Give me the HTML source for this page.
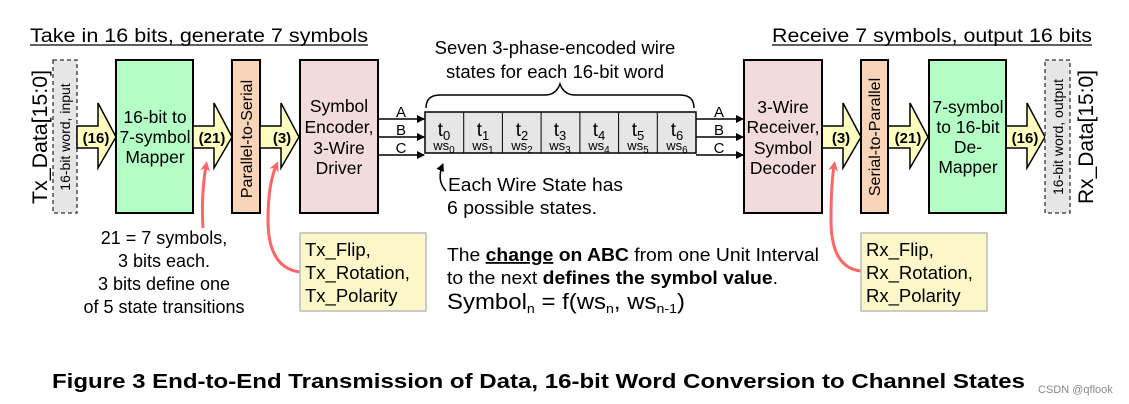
<!DOCTYPE html>
<html><head><meta charset="utf-8"><style>
html,body{margin:0;padding:0;background:#fff;}
svg{display:block;font-family:"Liberation Sans",Arial,sans-serif;}
</style></head><body>
<svg width="1129" height="404" viewBox="0 0 1129 404" xmlns="http://www.w3.org/2000/svg">
<defs>
<marker id="ah" markerWidth="8" markerHeight="8" refX="7" refY="4" orient="auto" markerUnits="userSpaceOnUse"><path d="M0,0 L8,4 L0,8 z" fill="#000"/></marker>
<marker id="rh" markerWidth="10" markerHeight="10" refX="5" refY="5" orient="auto" markerUnits="userSpaceOnUse"><path d="M0,0 L10,5 L0,10 L3,5 z" fill="#f66"/></marker>
</defs>
<text x="30" y="42" font-size="19" textLength="338" lengthAdjust="spacingAndGlyphs">Take in 16 bits, generate 7 symbols</text>
<line x1="30" y1="45" x2="368" y2="45" stroke="#000" stroke-width="1.2"/>
<text x="772" y="42" font-size="19" textLength="320" lengthAdjust="spacingAndGlyphs">Receive 7 symbols, output 16 bits</text>
<line x1="772" y1="45" x2="1092" y2="45" stroke="#000" stroke-width="1.2"/>

<text transform="translate(47,137) rotate(-90)" font-size="21" text-anchor="middle" textLength="134" lengthAdjust="spacingAndGlyphs">Tx_Data[15:0]</text>
<rect x="53" y="60" width="24" height="153" fill="#e6e6e6" stroke="#333" stroke-dasharray="4,3" stroke-width="1.3"/>
<text transform="translate(70,137) rotate(-90)" font-size="14" text-anchor="middle">16-bit word, input</text>

<rect x="116" y="60" width="77" height="153" fill="#b3ffc6" stroke="#000" stroke-width="2"/>
<text font-size="17.5" text-anchor="middle"><tspan x="155" y="123">16-bit to</tspan><tspan x="155" y="143">7-symbol</tspan><tspan x="155" y="163">Mapper</tspan></text>

<rect x="232" y="60" width="28" height="153" fill="#f8d4b8" stroke="#000" stroke-width="2"/>
<text transform="translate(252,139) rotate(-90)" font-size="16" text-anchor="middle">Parallel-to-Serial</text>

<rect x="300" y="60" width="78" height="153" fill="#f2dcdb" stroke="#000" stroke-width="2"/>
<text font-size="17.5" text-anchor="middle"><tspan x="339" y="112">Symbol</tspan><tspan x="339" y="133">Encoder,</tspan><tspan x="339" y="154">3-Wire</tspan><tspan x="339" y="174">Driver</tspan></text>

<g fill="#ffffc0" stroke="#000" stroke-width="1.5">
<path d="M77,126 H98 V103 L116,137 L98,168 V148 H77 Z"/>
<path d="M193,126 H214 V103 L232,137 L214,168 V148 H193 Z"/>
<path d="M260,126 H281 V103 L299,137 L281,168 V148 H260 Z"/>
<path d="M822,126 H843 V103 L861,137 L843,168 V148 H822 Z"/>
<path d="M888,126 H910 V103 L928,137 L910,168 V148 H888 Z"/>
<path d="M1006,126 H1027 V103 L1045,137 L1027,168 V148 H1006 Z"/>
</g>
<g font-size="15" font-weight="bold" text-anchor="middle">
<text x="96" y="143">(16)</text>
<text x="212" y="143">(21)</text>
<text x="282" y="143">(3)</text>
<text x="841" y="143">(3)</text>
<text x="908" y="143">(21)</text>
<text x="1025" y="143">(16)</text>
</g>

<g stroke="#000" stroke-width="1.5" marker-end="url(#ah)">
<line x1="378" y1="119" x2="424" y2="119"/>
<line x1="378" y1="137" x2="424" y2="137"/>
<line x1="378" y1="155" x2="424" y2="155"/>
<line x1="696" y1="119" x2="743" y2="119"/>
<line x1="696" y1="137" x2="743" y2="137"/>
<line x1="696" y1="155" x2="743" y2="155"/>
</g>
<g font-size="15" text-anchor="middle">
<text x="401" y="117">A</text><text x="401" y="135">B</text><text x="401" y="153">C</text>
<text x="719" y="117">A</text><text x="719" y="135">B</text><text x="719" y="153">C</text>
</g>

<text font-size="18.5" text-anchor="middle"><tspan x="555" y="54">Seven 3-phase-encoded wire</tspan><tspan x="555" y="78">states for each 16-bit word</tspan></text>
<path d="M426,108 Q426,95 440,95 L545,95 Q556,95 560,84 Q564,95 575,95 L680,95 Q694,95 694,108" fill="none" stroke="#000" stroke-width="1.5"/>
<rect x="425" y="112" width="271" height="41" fill="#e6e6e6" stroke="#000" stroke-width="1.5"/>
<g stroke="#000" stroke-width="1">
<line x1="463.7" y1="112" x2="463.7" y2="153"/><line x1="502.4" y1="112" x2="502.4" y2="153"/>
<line x1="541.1" y1="112" x2="541.1" y2="153"/><line x1="579.9" y1="112" x2="579.9" y2="153"/>
<line x1="618.6" y1="112" x2="618.6" y2="153"/><line x1="657.3" y1="112" x2="657.3" y2="153"/>
</g>
<g text-anchor="middle">
<text x="444" y="136" font-size="19">t<tspan font-size="13" dy="4">0</tspan></text>
<text x="483" y="136" font-size="19">t<tspan font-size="13" dy="4">1</tspan></text>
<text x="522" y="136" font-size="19">t<tspan font-size="13" dy="4">2</tspan></text>
<text x="560" y="136" font-size="19">t<tspan font-size="13" dy="4">3</tspan></text>
<text x="599" y="136" font-size="19">t<tspan font-size="13" dy="4">4</tspan></text>
<text x="638" y="136" font-size="19">t<tspan font-size="13" dy="4">5</tspan></text>
<text x="677" y="136" font-size="19">t<tspan font-size="13" dy="4">6</tspan></text>
<text x="444" y="150" font-size="13">ws<tspan font-size="10" dy="3">0</tspan></text>
<text x="483" y="150" font-size="13">ws<tspan font-size="10" dy="3">1</tspan></text>
<text x="522" y="150" font-size="13">ws<tspan font-size="10" dy="3">2</tspan></text>
<text x="560" y="150" font-size="13">ws<tspan font-size="10" dy="3">3</tspan></text>
<text x="599" y="150" font-size="13">ws<tspan font-size="10" dy="3">4</tspan></text>
<text x="638" y="150" font-size="13">ws<tspan font-size="10" dy="3">5</tspan></text>
<text x="677" y="150" font-size="13">ws<tspan font-size="10" dy="3">6</tspan></text>
</g>
<path d="M446,191 Q436,180 443,164" fill="none" stroke="#000" stroke-width="1.5" marker-end="url(#ah)"/>
<text x="448" y="191" font-size="18" textLength="175" lengthAdjust="spacingAndGlyphs">Each Wire State has</text>
<text x="447" y="214" font-size="18" textLength="150" lengthAdjust="spacingAndGlyphs">6 possible states.</text>

<text x="447" y="261" font-size="18" textLength="372" lengthAdjust="spacingAndGlyphs">The <tspan font-weight="bold" text-decoration="underline">change</tspan><tspan font-weight="bold"> on ABC</tspan> from one Unit Interval</text>
<text x="447" y="284" font-size="18" textLength="331" lengthAdjust="spacingAndGlyphs">to the next <tspan font-weight="bold">defines the symbol value</tspan>.</text>
<text x="447" y="309" font-size="22" textLength="238" lengthAdjust="spacingAndGlyphs">Symbol<tspan font-size="13" dy="4">n</tspan><tspan dy="-4"> = f(ws</tspan><tspan font-size="13" dy="4">n</tspan><tspan dy="-4">, ws</tspan><tspan font-size="13" dy="4">n-1</tspan><tspan dy="-4">)</tspan></text>

<rect x="744" y="60" width="78" height="153" fill="#f2dcdb" stroke="#000" stroke-width="2"/>
<text font-size="17.5" text-anchor="middle"><tspan x="783" y="113">3-Wire</tspan><tspan x="783" y="133">Receiver,</tspan><tspan x="783" y="154">Symbol</tspan><tspan x="783" y="174">Decoder</tspan></text>
<rect x="861" y="60" width="27" height="153" fill="#f8d4b8" stroke="#000" stroke-width="2"/>
<text transform="translate(880,137) rotate(-90)" font-size="16" text-anchor="middle">Serial-to-Parallel</text>
<rect x="929" y="60" width="77" height="153" fill="#b3ffc6" stroke="#000" stroke-width="2"/>
<text font-size="17.5" text-anchor="middle"><tspan x="968" y="113">7-symbol</tspan><tspan x="968" y="133">to 16-bit</tspan><tspan x="968" y="153">De-</tspan><tspan x="968" y="173">Mapper</tspan></text>
<rect x="1045" y="60" width="25" height="153" fill="#e6e6e6" stroke="#333" stroke-dasharray="4,3" stroke-width="1.3"/>
<text transform="translate(1063,137) rotate(-90)" font-size="14" text-anchor="middle">16-bit word, output</text>
<text transform="translate(1093,137) rotate(-90)" font-size="21" text-anchor="middle" textLength="134" lengthAdjust="spacingAndGlyphs">Rx_Data[15:0]</text>

<text font-size="18" text-anchor="middle"><tspan x="164" y="244">21 = 7 symbols,</tspan><tspan x="164" y="267">3 bits each.</tspan><tspan x="164" y="290">3 bits define one</tspan><tspan x="164" y="313">of 5 state transitions</tspan></text>
<path d="M203,228 Q201,195 206,166" fill="none" stroke="#f66" stroke-width="3" marker-end="url(#rh)"/>
<path d="M300,272 Q268,268 268,220 Q268,185 276,166" fill="none" stroke="#f66" stroke-width="3" marker-end="url(#rh)"/>
<path d="M861,271 Q831,268 831,220 Q831,185 834,166" fill="none" stroke="#f66" stroke-width="3" marker-end="url(#rh)"/>

<rect x="300" y="233" width="126" height="78" fill="#fbf7c8" stroke="#bbb" stroke-width="1.5"/>
<text font-size="18.5"><tspan x="305" y="256">Tx_Flip,</tspan><tspan x="305" y="279">Tx_Rotation,</tspan><tspan x="305" y="302">Tx_Polarity</tspan></text>
<rect x="861" y="233" width="126" height="78" fill="#fbf7c8" stroke="#bbb" stroke-width="1.5"/>
<text font-size="18.5"><tspan x="866" y="256">Rx_Flip,</tspan><tspan x="866" y="279">Rx_Rotation,</tspan><tspan x="866" y="302">Rx_Polarity</tspan></text>

<text x="52" y="388" font-size="20" font-weight="bold" textLength="973" lengthAdjust="spacingAndGlyphs">Figure 3 End-to-End Transmission of Data, 16-bit Word Conversion to Channel States</text>
<text x="1038" y="393" font-size="11" fill="#888">CSDN @qflook</text>
</svg>
</body></html>
